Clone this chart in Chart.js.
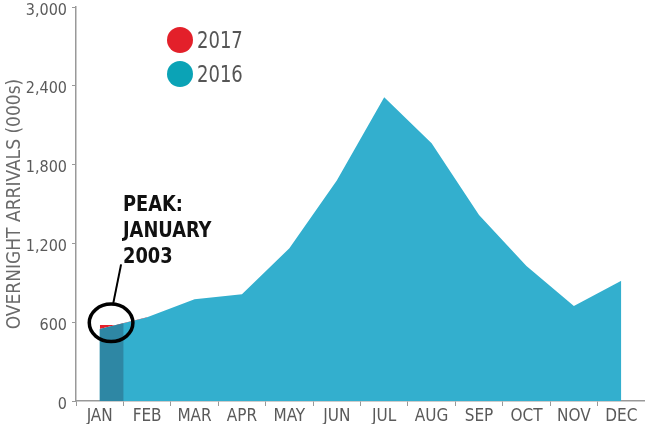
<!DOCTYPE html>
<html>
<head>
<meta charset="utf-8">
<script src="https://cdn.jsdelivr.net/npm/chart.js@4/dist/chart.umd.min.js"></script>
<style>
  html, body { margin: 0; padding: 0; background: #fff; }
  #wrap { position: relative; width: 645px; height: 424px; }
  canvas { position: absolute; left: 0; top: 0; }
  .cf { font-family: 'Liberation Sans Narrow', 'DejaVu Sans Condensed', 'Roboto', sans-serif; }
  #legend { position: absolute; left: 167px; top: 23px; }
  .lg { display: flex; align-items: center; height: 34px; font-size: 23px; color: #555; }
  .lg span { display: inline-block; transform: scaleX(0.87); transform-origin: left center; }
  .dot { width: 26px; height: 26px; border-radius: 50%; margin-right: 4px; }
  #note { position: absolute; left: 123px; top: 191px; font-size: 22px; font-weight: bold; line-height: 26px; color: #111; transform: scaleX(0.9); transform-origin: left top; }
</style>
</head>
<body>
<div id="wrap">
  <canvas id="c" width="645" height="424"></canvas>
  <div id="legend" class="cf"></div>
  <div id="note" class="cf">PEAK:<br>JANUARY<br>2003</div>
</div>
<script>
const months = ['JAN','FEB','MAR','APR','MAY','JUN','JUL','AUG','SEP','OCT','NOV','DEC'];
const arrivals2016 = [548, 637, 774, 812, 1163, 1679, 2312, 1962, 1416, 1028, 723, 916];
const arrivals2017 = [579, 579, null, null, null, null, null, null, null, null, null, null];
const yTicks = [0, 600, 1200, 1800, 2400, 3000];
const legendItems = [
  { label: '2017', color: '#E3202A' },
  { label: '2016', color: '#0BA3B6' }
];
const yTitle = 'OVERNIGHT ARRIVALS (000s)';
const FONT = "'Liberation Sans Narrow', 'DejaVu Sans Condensed', 'Roboto', sans-serif";

// HTML legend
const lg = document.getElementById('legend');
legendItems.forEach(it => {
  const row = document.createElement('div');
  row.className = 'lg';
  const d = document.createElement('div');
  d.className = 'dot';
  d.style.background = it.color;
  const t = document.createElement('span');
  t.textContent = it.label;
  row.appendChild(d); row.appendChild(t);
  lg.appendChild(row);
});

const janHighlight = {
  id: 'janHighlight',
  afterDatasetDraw(chart, args) {
    if (args.index !== 0) return;
    const pts = args.meta.data;
    const p0 = pts[0], p1 = pts[1];
    const yS = chart.scales.y;
    const base = yS.getPixelForValue(0);
    const xm = (p0.x + p1.x) / 2, ym = (p0.y + p1.y) / 2;
    const ctx = chart.ctx;
    ctx.save();
    ctx.fillStyle = '#2E87A4';
    ctx.beginPath();
    ctx.moveTo(p0.x, base);
    ctx.lineTo(p0.x, p0.y);
    ctx.lineTo(xm, ym);
    ctx.lineTo(xm, base);
    ctx.closePath();
    ctx.fill();
    ctx.restore();
  },
  afterDraw(chart) {
    const xS = chart.scales.x, yS = chart.scales.y;
    const x0 = xS.getPixelForValue(0), x1 = xS.getPixelForValue(1);
    const cx = x0 + (x1 - x0) * 0.24;
    const cy = yS.getPixelForValue(595);
    const rx = (x1 - x0) * 0.46, ry = rx * 0.86;
    const ctx = chart.ctx;
    ctx.save();
    ctx.strokeStyle = '#000';
    ctx.lineWidth = 3.5;
    ctx.beginPath();
    ctx.ellipse(cx, cy, rx, ry, 0, 0, Math.PI * 2);
    ctx.stroke();
    ctx.lineWidth = 2;
    ctx.beginPath();
    ctx.moveTo(cx + 2, cy - ry);
    ctx.lineTo(cx + 10, yS.getPixelForValue(1040));
    ctx.stroke();
    ctx.restore();
  }
};

new Chart(document.getElementById('c'), {
  type: 'line',
  data: {
    labels: months,
    datasets: [
      {
        label: '2016',
        data: arrivals2016,
        order: 2,
        fill: 'origin',
        backgroundColor: '#33AFCE',
        borderWidth: 0,
        pointRadius: 0,
        tension: 0
      },
      {
        label: '2017',
        data: arrivals2017,
        order: 1,
        fill: { target: 0, above: '#E3202A', below: 'rgba(0,0,0,0)' },
        borderWidth: 0,
        pointRadius: 0,
        tension: 0
      }
    ]
  },
  options: {
    responsive: false,
    animation: false,
    devicePixelRatio: 1,
    layout: { padding: { left: 0, right: -3, top: 7, bottom: 0 } },
    plugins: { legend: { display: false }, tooltip: { enabled: false } },
    scales: {
      x: {
        type: 'category',
        offset: true,
        grid: { display: true, offset: true, drawOnChartArea: false, drawTicks: true, tickLength: 5, color: '#999', lineWidth: 1 },
        border: { display: true, color: '#999', width: 1.5 },
        ticks: { color: '#5a5a5a', font: { family: FONT, size: 17 }, padding: 0, maxRotation: 0, autoSkip: false },
        afterFit(s) { s.height = 23; s.paddingLeft = 0; s.paddingRight = 0; }
      },
      y: {
        min: 0, max: 3000,
        afterBuildTicks(s) { s.ticks = yTicks.map(v => ({ value: v })); },
        grid: { display: true, drawOnChartArea: false, drawTicks: true, tickLength: 4, color: '#999' },
        border: { display: true, color: '#999', width: 1.5 },
        ticks: {
          color: '#5a5a5a', font: { family: FONT, size: 16, lineHeight: '7px' }, padding: 5,
          callback: v => ['', v.toLocaleString('en-US')]
        },
        title: { display: true, text: yTitle, color: '#6a6a6a', font: { family: FONT, size: 19 }, padding: { top: 4, bottom: 0 } },
        afterFit(s) { s.width = 76; s.paddingTop = 0; s.paddingBottom = 0; }
      }
    }
  },
  plugins: [janHighlight]
});
</script>
</body>
</html>
